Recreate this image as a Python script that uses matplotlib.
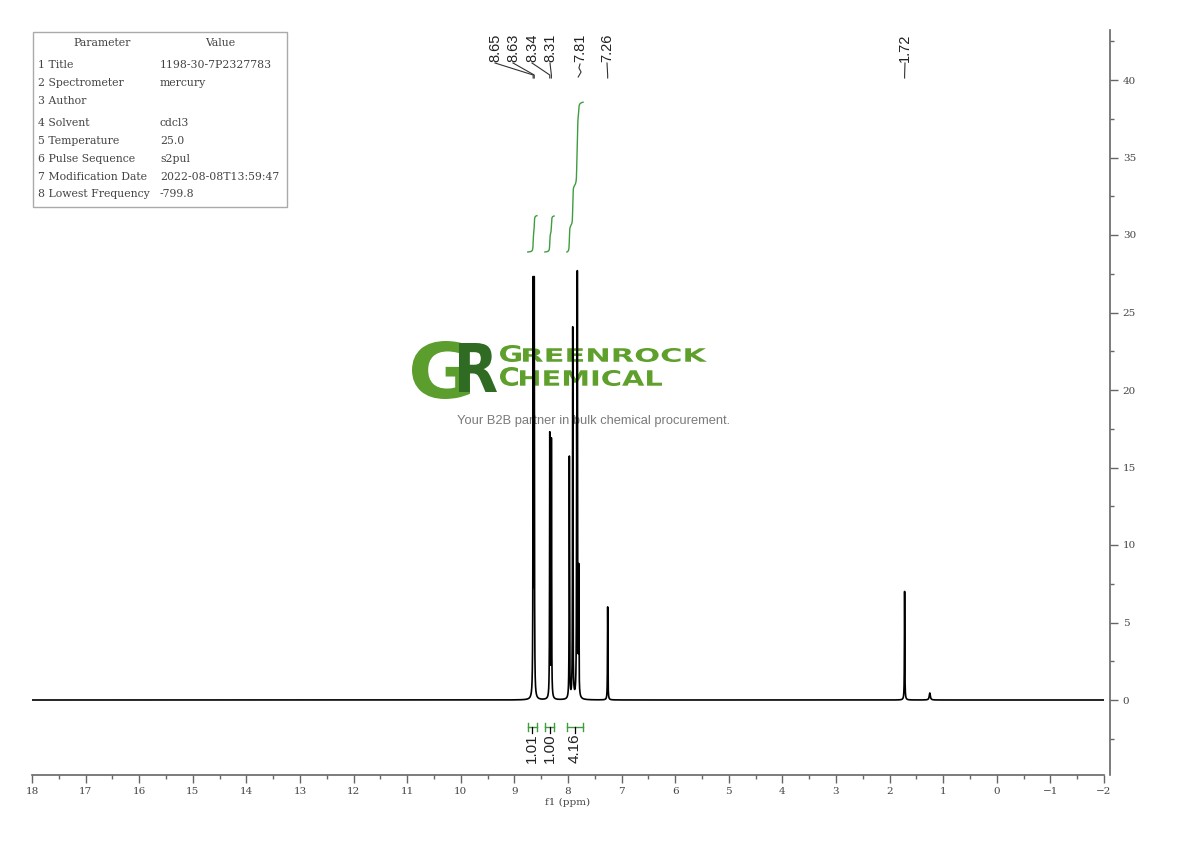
import numpy as np
import matplotlib
matplotlib.use("Agg")
import matplotlib.pyplot as plt
from matplotlib.ticker import MultipleLocator
from matplotlib.textpath import TextPath
from matplotlib.patches import PathPatch, Rectangle
from matplotlib.font_manager import FontProperties
from matplotlib.transforms import Affine2D, blended_transform_factory

W, H = 1190, 841

# peaks (ppm, height, half width)
peak_ppm = [8.650, 8.630, 8.340, 8.310, 7.975, 7.912, 7.838, 7.826, 7.800, 7.260, 1.720, 1.250]
peak_height = [26.3, 26.3, 17.0, 16.6, 15.6, 23.9, 15.5, 25.9, 8.0, 6.0, 7.0, 0.45]
peak_hwhm = [0.004, 0.004, 0.004, 0.004, 0.004, 0.004, 0.004, 0.004, 0.004, 0.004, 0.004, 0.012]

# peak labels on top
label_ppm = [8.65, 8.63, 8.34, 8.31, 7.81, 7.26, 1.72]
label_text = ["8.65", "8.63", "8.34", "8.31", "7.81", "7.26", "1.72"]

# integrals
integral_from = [8.75, 8.43, 8.02]
integral_to = [8.58, 8.26, 7.72]
integral_value = [1.01, 1.00, 4.16]

# parameter table
param_names = ["1 Title", "2 Spectrometer", "3 Author", "4 Solvent", "5 Temperature",
               "6 Pulse Sequence", "7 Modification Date", "8 Lowest Frequency"]
param_values = ["1198-30-7P2327783", "mercury", "", "cdcl3", "25.0",
                "s2pul", "2022-08-08T13:59:47", "-799.8"]

green = "#3f9c3f"
axcol = "#666666"


def fx(px):
    return px / W


def fy(py):
    return 1 - py / H


def ppm_of(px):
    # pixel -> ppm, only used for label layout
    return 18 - (px - 32) / 53.6


fig = plt.figure(figsize=(W / 100, H / 100), dpi=100)
ax = fig.add_axes([fx(32), fy(775), fx(1104) - fx(32), fy(30) - fy(775)])
ax.set_facecolor("none")

# spectrum
x = np.linspace(18, -2, 60001)
y = np.zeros_like(x)
for p, h, w in zip(peak_ppm, peak_height, peak_hwhm):
    y += h / (1 + ((x - p) / w) ** 2)
ax.plot(x, y, color="black", lw=1.2, zorder=3)

ax.set_xlim(18, -2)
ax.set_ylim((700 - 775) / 15.5, (700 - 30) / 15.5)

# integral curves
int_base = (700 - 252) / 15.5
int_scale = 36 / 15.5
for f, t, v in zip(integral_from, integral_to, integral_value):
    m = (x <= f) & (x >= t)
    c = np.cumsum(y[m])
    c = c / c[-1] * v * int_scale + int_base
    ax.plot(x[m], c, color=green, lw=1.0, zorder=2)

# integral brackets below the baseline
by = (700 - 727) / 15.5
tk = 4 / 15.5
for f, t, v in zip(integral_from, integral_to, integral_value):
    ax.plot([f, t], [by, by], color=green, lw=1.0)
    ax.plot([f, f], [by - tk, by + tk], color=green, lw=1.0)
    ax.plot([t, t], [by - tk, by + tk], color=green, lw=1.0)
    mid = (f + t) / 2
    ax.plot([mid, mid], [by, by - 6 / 15.5], color="black", lw=0.9)
    ax.text(mid, by - 6.5 / 15.5, "%.2f" % v, rotation=90, ha="center", va="top",
            fontsize=11, family="Liberation Sans", color="#222222")

# peak labels with connectors
trans = blended_transform_factory(ax.transData, fig.transFigure)
label_px = [495, 513, 532, 550, 580, 607, 905]
for lp, lt, lx in zip(label_ppm, label_text, label_px):
    lxp = ppm_of(lx)
    ax.text(lxp, fy(34), lt, rotation=90, ha="center", va="top", fontsize=10.5,
            family="Liberation Sans", color="#222222", transform=trans)
    if lt == "7.81":
        xs = [lxp, lxp + 0.02, lxp - 0.02, lp]
        ys = [fy(64), fy(68), fy(72), fy(77)]
    else:
        xs = [lxp, lp, lp]
        ys = [fy(63), fy(75), fy(78)]
    ax.plot(xs, ys, color="#333333", lw=0.8, transform=trans, clip_on=False)

# axes style
for s in ["top", "left"]:
    ax.spines[s].set_visible(False)
ax.spines["right"].set_position(("outward", 4))
for s in ["right", "bottom"]:
    ax.spines[s].set_color(axcol)
    ax.spines[s].set_linewidth(1.2)
ax.yaxis.tick_right()
ax.xaxis.set_major_locator(MultipleLocator(1))
ax.xaxis.set_minor_locator(MultipleLocator(0.5))
ax.yaxis.set_major_locator(MultipleLocator(5))
ax.yaxis.set_minor_locator(MultipleLocator(2.5))
ax.tick_params(which="both", direction="out", color=axcol, width=1.0, labelcolor="#444444",
               labelsize=8)
ax.tick_params(which="major", length=6)
ax.tick_params(which="minor", length=3)
ax.tick_params(axis="x", pad=3)
for lab in ax.get_xticklabels() + ax.get_yticklabels():
    lab.set_family("DejaVu Serif")
    lab.set_fontsize(7.5)
ax.set_xlabel("f1 (ppm)", fontsize=7.5, family="DejaVu Serif", color="#444444", labelpad=1)

# parameter table
fig.patches.append(Rectangle((fx(33), fy(207)), fx(287) - fx(33), fy(32) - fy(207),
                             transform=fig.transFigure, fill=False, edgecolor="#aaaaaa", lw=1.0))
tfont = dict(fontsize=7.8, family="DejaVu Serif", color="#444444", va="center")
fig.text(fx(102), fy(43), "Parameter", ha="center", **tfont)
fig.text(fx(220), fy(43), "Value", ha="center", **tfont)
row_y = [65, 83, 101, 123, 141, 159, 177, 194]
for n, v, ry in zip(param_names, param_values, row_y):
    fig.text(fx(38), fy(ry), n, ha="left", **tfont)
    fig.text(fx(160), fy(ry), v, ha="left", **tfont)


# watermark
def box_text(s, box, color, weight="bold"):
    tp = TextPath((0, 0), s, size=100, prop=FontProperties(family="DejaVu Sans", weight=weight))
    e = tp.get_extents()
    x0, y0, x1, y1 = box
    tr = (Affine2D().translate(-e.x0, -e.y0)
          .scale((x1 - x0) / e.width, (y1 - y0) / e.height)
          .translate(x0, H - y1).scale(1 / W, 1 / H))
    p = PathPatch(tr.transform_path(tp), facecolor=color, edgecolor="none",
                  transform=fig.transFigure, zorder=-1)
    fig.patches.append(p)


box_text("G", (412, 341, 470, 399), "#5c9e2e")
box_text("R", (459, 343, 497, 392), "#2f6b22")
box_text("G", (500, 345, 521, 362), "#5fa02c")
box_text("REENROCK", (523, 348, 707, 362), "#5fa02c")
box_text("C", (500, 367, 518, 386), "#5fa02c")
box_text("HEMICAL", (520, 370, 662, 386), "#5fa02c")
fig.text(fx(594), fy(421), "Your B2B partner in bulk chemical procurement.", ha="center",
         va="center", fontsize=9.3, family="Liberation Sans", color="#7a7a7a", zorder=-1)

fig.savefig("out.png", dpi=100)
